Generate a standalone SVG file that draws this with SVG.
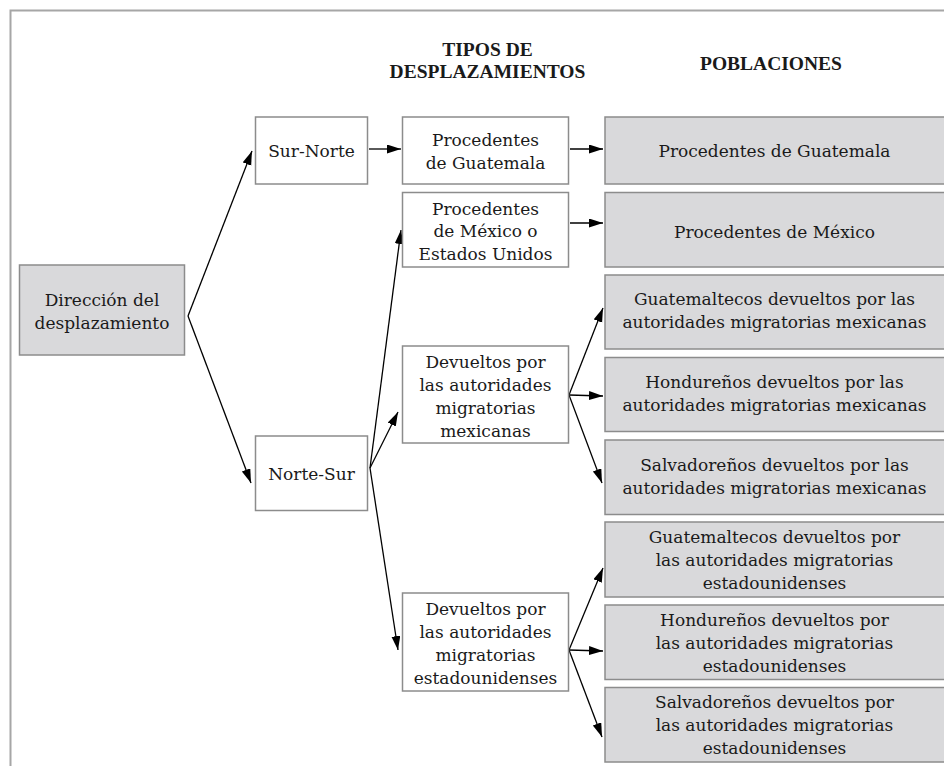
<svg xmlns="http://www.w3.org/2000/svg" width="944" height="766" viewBox="0 0 944 766">
<style>
.box{fill:#ffffff;stroke:#8c8c8c;stroke-width:1.5}
.gbox{fill:#d9d9db;stroke:#8c8c8c;stroke-width:1.5}
.t{font-family:"DejaVu Serif","Liberation Serif",serif;font-size:17px;fill:#1a1a1a;text-anchor:middle}
.h{font-family:"Liberation Serif","DejaVu Serif",serif;font-size:19.5px;font-weight:bold;fill:#1a1a1a;text-anchor:middle}
.c{stroke:#000;stroke-width:1.3;fill:none;marker-end:url(#ah)}
</style>
<defs>
<marker id="ah" markerUnits="userSpaceOnUse" markerWidth="15" markerHeight="10" refX="14" refY="4.5" orient="auto">
<path d="M0,0 L14,4.5 L0,9 Z" fill="#000"/>
</marker>
</defs>
<rect x="0" y="0" width="944" height="766" fill="#ffffff"/>
<rect x="10.5" y="10.5" width="960" height="780" fill="none" stroke="#a6a6a6" stroke-width="2"/>
<g id="headers">
<text class="h" x="487.5" y="56">TIPOS DE</text>
<text class="h" x="487.5" y="78">DESPLAZAMIENTOS</text>
<text class="h" x="771" y="70">POBLACIONES</text>
</g>
<g id="connectors">
<line class="c" x1="188" y1="316" x2="252" y2="151"/>
<line class="c" x1="188" y1="316" x2="251" y2="483"/>
<line class="c" x1="369" y1="149" x2="401" y2="149"/>
<line class="c" x1="570" y1="149" x2="603" y2="149"/>
<line class="c" x1="570" y1="223" x2="603" y2="223"/>
<line class="c" x1="370" y1="468" x2="401" y2="230"/>
<line class="c" x1="370" y1="468" x2="398" y2="412"/>
<line class="c" x1="370" y1="468" x2="398" y2="650"/>
<line class="c" x1="569" y1="395" x2="603" y2="308"/>
<line class="c" x1="569" y1="395" x2="603" y2="396"/>
<line class="c" x1="569" y1="395" x2="602" y2="483"/>
<line class="c" x1="569" y1="650" x2="603" y2="568"/>
<line class="c" x1="569" y1="650" x2="603" y2="651"/>
<line class="c" x1="569" y1="650" x2="602" y2="737"/>
</g>
<g id="direccion">
<rect class="gbox" x="19.5" y="265" width="165" height="90"/>
<text class="t" x="102" y="305.5">Dirección del</text>
<text class="t" x="102" y="328.5">desplazamiento</text>
</g>
<g id="sur-norte">
<rect class="box" x="255.5" y="117" width="112" height="67"/>
<text class="t" x="311.5" y="157">Sur-Norte</text>
</g>
<g id="norte-sur">
<rect class="box" x="255.5" y="436" width="112" height="74.5"/>
<text class="t" x="311.5" y="480">Norte-Sur</text>
</g>
<g id="tipo-guatemala">
<rect class="box" x="402.5" y="117" width="166" height="67"/>
<text class="t" x="485.5" y="146">Procedentes</text>
<text class="t" x="485.5" y="169">de Guatemala</text>
</g>
<g id="tipo-mexico">
<rect class="box" x="402.5" y="192.5" width="166" height="74.5"/>
<text class="t" x="485.5" y="214.5">Procedentes</text>
<text class="t" x="485.5" y="237">de México o</text>
<text class="t" x="485.5" y="259.5">Estados Unidos</text>
</g>
<g id="tipo-devueltos-mex">
<rect class="box" x="402.5" y="346" width="166" height="97"/>
<text class="t" x="485.5" y="367.5">Devueltos por</text>
<text class="t" x="485.5" y="390.5">las autoridades</text>
<text class="t" x="485.5" y="413.5">migratorias</text>
<text class="t" x="485.5" y="436.5">mexicanas</text>
</g>
<g id="tipo-devueltos-eu">
<rect class="box" x="402.5" y="593" width="166" height="98"/>
<text class="t" x="485.5" y="614.5">Devueltos por</text>
<text class="t" x="485.5" y="637.5">las autoridades</text>
<text class="t" x="485.5" y="660.5">migratorias</text>
<text class="t" x="485.5" y="683.5">estadounidenses</text>
</g>
<g id="pob-guatemala">
<rect class="gbox" x="605" y="117" width="341" height="67"/>
<text class="t" x="774.5" y="157">Procedentes de Guatemala</text>
</g>
<g id="pob-mexico">
<rect class="gbox" x="605" y="192.5" width="341" height="74.5"/>
<text class="t" x="774.5" y="237.5">Procedentes de México</text>
</g>
<g id="pob-guat-mex">
<rect class="gbox" x="605" y="275" width="341" height="74"/>
<text class="t" x="774.5" y="305">Guatemaltecos devueltos por las</text>
<text class="t" x="774.5" y="328">autoridades migratorias mexicanas</text>
</g>
<g id="pob-hond-mex">
<rect class="gbox" x="605" y="357.5" width="341" height="74"/>
<text class="t" x="774.5" y="388">Hondureños devueltos por las</text>
<text class="t" x="774.5" y="411">autoridades migratorias mexicanas</text>
</g>
<g id="pob-salv-mex">
<rect class="gbox" x="605" y="440" width="341" height="74.5"/>
<text class="t" x="774.5" y="471">Salvadoreños devueltos por las</text>
<text class="t" x="774.5" y="494">autoridades migratorias mexicanas</text>
</g>
<g id="pob-guat-eu">
<rect class="gbox" x="605" y="522" width="341" height="75"/>
<text class="t" x="774.5" y="542.5">Guatemaltecos devueltos por</text>
<text class="t" x="774.5" y="565.5">las autoridades migratorias</text>
<text class="t" x="774.5" y="588.5">estadounidenses</text>
</g>
<g id="pob-hond-eu">
<rect class="gbox" x="605" y="605" width="341" height="74.5"/>
<text class="t" x="774.5" y="625.5">Hondureños devueltos por</text>
<text class="t" x="774.5" y="648.5">las autoridades migratorias</text>
<text class="t" x="774.5" y="671.5">estadounidenses</text>
</g>
<g id="pob-salv-eu">
<rect class="gbox" x="605" y="687.5" width="341" height="74.5"/>
<text class="t" x="774.5" y="708">Salvadoreños devueltos por</text>
<text class="t" x="774.5" y="731">las autoridades migratorias</text>
<text class="t" x="774.5" y="754">estadounidenses</text>
</g>
</svg>
